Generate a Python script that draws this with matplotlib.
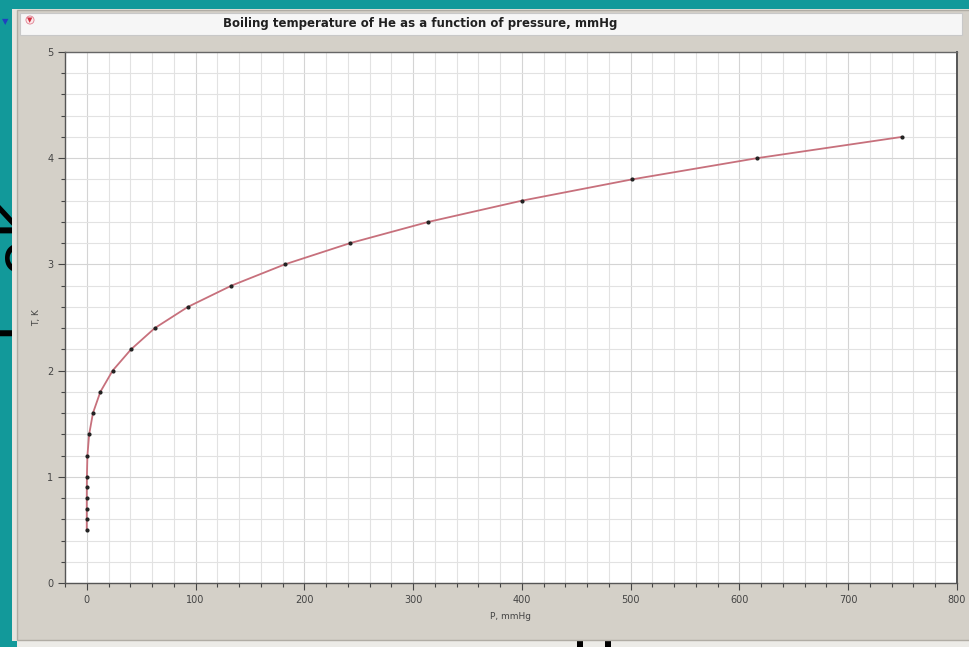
import matplotlib
matplotlib.use("Agg")
import matplotlib.pyplot as plt
from matplotlib.patches import Rectangle
from matplotlib.ticker import MultipleLocator

# He boiling temperature vs pressure
pressure = [0.0, 0.0, 0.0, 0.01, 0.04, 0.12, 0.6, 2.2, 5.7, 12.5, 23.8,
            40.7, 62.5, 93.0, 133.0, 182.0, 242.0, 314.0, 400.0, 501.0, 616.0, 749.0]
temp = [0.5, 0.6, 0.7, 0.8, 0.9, 1.0, 1.2, 1.4, 1.6, 1.8, 2.0,
        2.2, 2.4, 2.6, 2.8, 3.0, 3.2, 3.4, 3.6, 3.8, 4.0, 4.2]

TEAL = "#12999a"
PANEL = "#d4d0c8"

fig = plt.figure(figsize=(9.7, 6.47), dpi=100)
fig.patch.set_facecolor(TEAL)

W, H = 970.0, 647.0

# slide text behind the window
fig.text(-0.006, 1 - 275 / H, "T, oK", rotation=90, fontsize=44, color="black",
         ha="left", va="center", zorder=0)
fig.text(0.572, 1 - 636 / H, "mmHg", fontsize=44, color="black",
         ha="center", va="top", zorder=1.5)

# window panel
def px(x0, y0, x1, y1, **kw):
    fig.patches.append(Rectangle((x0 / W, 1 - y1 / H), (x1 - x0) / W, (y1 - y0) / H,
                                 transform=fig.transFigure, **kw))

px(12, 9, 975, 641, facecolor="#e6e4de", edgecolor="none", zorder=1)
px(17, 10, 975, 640, facecolor=PANEL, edgecolor="#b0aca4", lw=1, zorder=2)
px(20, 13, 962, 35, facecolor="#f6f6f6", edgecolor="#c8c8c8", lw=0.8, zorder=3)
px(17, 641, 975, 660, facecolor="#ecebe7", edgecolor="none", zorder=1)

fig.text(420 / W, 1 - 24 / H, "Boiling temperature of He as a function of pressure, mmHg",
         fontsize=8.5, fontweight="bold", color="#202020", ha="center", va="center", zorder=5)
fig.text(5 / W, 1 - 22 / H, "\u25bc", fontsize=6, color="#2040c0", ha="center", va="center", zorder=5)
fig.text(30 / W, 1 - 20 / H, "\u25bc", fontsize=5, color="#d03040", ha="center", va="center",
         zorder=5, bbox=dict(boxstyle="circle,pad=0.15", fc="#fbe8ea", ec="#e08090", lw=0.6))

ax = fig.add_axes([65 / W, 1 - 583 / H, (957 - 65) / W, (583 - 52) / H], zorder=10)
ax.set_facecolor("white")

ax.plot(pressure, temp, "-", color="#c7707c", lw=1.3, zorder=3)
ax.plot(pressure, temp, "o", color="#222222", ms=2, zorder=4)

ax.set_xlim(-20, 800)
ax.set_ylim(0, 5)
ax.xaxis.set_major_locator(MultipleLocator(100))
ax.xaxis.set_minor_locator(MultipleLocator(20))
ax.yaxis.set_major_locator(MultipleLocator(1))
ax.yaxis.set_minor_locator(MultipleLocator(0.2))
ax.grid(True, which="major", color="#d4d4d4", lw=0.8)
ax.grid(True, which="minor", color="#e2e2e2", lw=0.8)
ax.set_axisbelow(True)

ax.tick_params(which="both", direction="out", colors="#444444", labelsize=7, width=0.8)
ax.tick_params(which="major", length=5)
ax.tick_params(which="minor", length=3)
for s in ax.spines.values():
    s.set_color("#555555")
    s.set_linewidth(1.0)
ax.spines["right"].set_linewidth(1.4)
ax.spines["top"].set_color("#666666")

ax.set_xlabel("P, mmHg", fontsize=6.5, color="#444444", labelpad=5)
ax.set_ylabel("T, K", fontsize=6.5, color="#444444", labelpad=4)

fig.savefig("out.png", dpi=100, facecolor=fig.get_facecolor())
